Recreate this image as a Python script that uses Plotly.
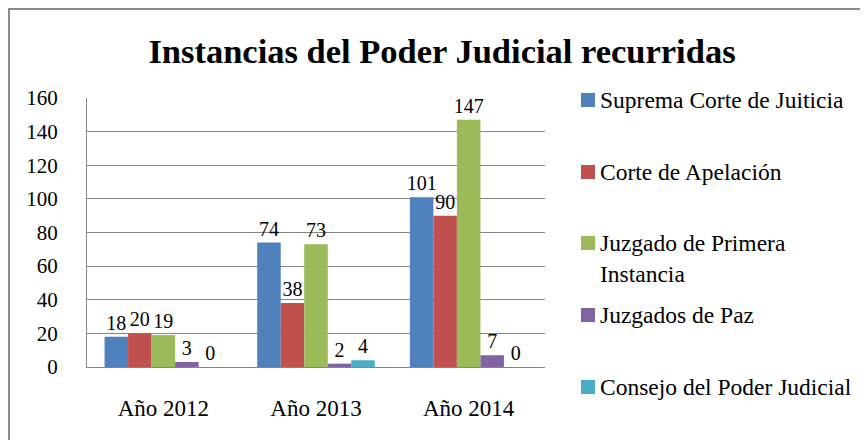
import plotly.graph_objects as go

categories = ["Año 2012", "Año 2013", "Año 2014"]
series_names = ["Suprema Corte de Juiticia", "Corte de Apelación",
                "Juzgado de Primera<br>Instancia", "Juzgados de Paz",
                "Consejo del Poder Judicial"]
suprema = [18, 74, 101]
apelacion = [20, 38, 90]
primera = [19, 73, 147]
paz = [3, 2, 7]
consejo = [0, 4, 0]
colors = ["#4F81BD", "#C0504D", "#9BBB59", "#8064A2", "#4BACC6"]
y_ticks = [0, 20, 40, 60, 80, 100, 120, 140, 160]

FONT = "Liberation Serif"
OFF = 8                      # default page body margin
W, H = 868 - OFF, 440 - OFF  # figure fits the window
# plot area in window pixels: left 87, right 545, top 98, bottom 367
L = 87 - OFF
T = 98 - OFF
R = W - (545 - OFF)
B = H - (367 - OFF)

pw = W - L - R
ph = H - T - B
fx = lambda px: (px - OFF - L) / pw          # window px -> paper x
fy = lambda py: (H - B - (py - OFF)) / ph    # window px -> paper y

fig = go.Figure()
for name, vals, col in zip(series_names, [suprema, apelacion, primera, paz, consejo], colors):
    fig.add_trace(go.Bar(
        x=categories, y=vals, name=name, marker=dict(color=col, line=dict(width=0)),
        text=[str(v) for v in vals], textposition="outside", cliponaxis=False,
        constraintext="none",
        textfont=dict(family=FONT, size=20, color="black"),
        showlegend=False,
    ))

# custom legend (real text) placed to the right of the plot
legend_y = [100, 172, 243, 315, 387]
shapes = []
annotations = []
for name, col, ly in zip(series_names, colors, legend_y):
    shapes.append(dict(type="rect", xref="paper", yref="paper",
                       x0=fx(581), x1=fx(595), y0=fy(ly - 7), y1=fy(ly + 7),
                       fillcolor=col, line=dict(width=0)))
    annotations.append(dict(text=name, xref="paper", yref="paper",
                            x=fx(598), y=fy(ly - 15), xanchor="left", yanchor="top",
                            align="left", showarrow=False,
                            font=dict(family=FONT, size=23.5, color="black")))

# outer chart frame
shapes.append(dict(type="line", xref="paper", yref="paper", x0=fx(9), x1=fx(9),
                   y0=fy(9), y1=fy(460), line=dict(color="#8c8c8c", width=2)))
shapes.append(dict(type="line", xref="paper", yref="paper", x0=fx(8), x1=fx(880),
                   y0=fy(9), y1=fy(9), line=dict(color="#8c8c8c", width=2)))

fig.update_layout(
    width=W, height=H,
    margin=dict(l=L, r=R, t=T, b=B, autoexpand=False),
    paper_bgcolor="white", plot_bgcolor="white",
    barmode="group", bargap=0.23, bargroupgap=0,
    font=dict(family=FONT, size=20, color="black"),
    title=dict(text="<b>Instancias del Poder Judicial recurridas</b>",
               x=(442 - OFF) / W, xanchor="center", y=1 - 43 / H, yanchor="middle",
               font=dict(family=FONT, size=34.5, color="black")),
    xaxis=dict(range=[-0.5, 2.5], showgrid=False, showline=True, linecolor="#868686",
               linewidth=1, ticks="", tickfont=dict(size=23), fixedrange=True,
               automargin=False, ticklabelstandoff=20),
    yaxis=dict(range=[0, 160], tickvals=y_ticks, showgrid=True, gridcolor="#868686",
               gridwidth=1, showline=True, linecolor="#868686", linewidth=1,
               ticks="", tickfont=dict(size=21), zeroline=False,
               ticklabelstandoff=24, automargin=False, fixedrange=True),
    showlegend=False,
    shapes=shapes,
    annotations=annotations,
)

fig.write_html("out.html")
